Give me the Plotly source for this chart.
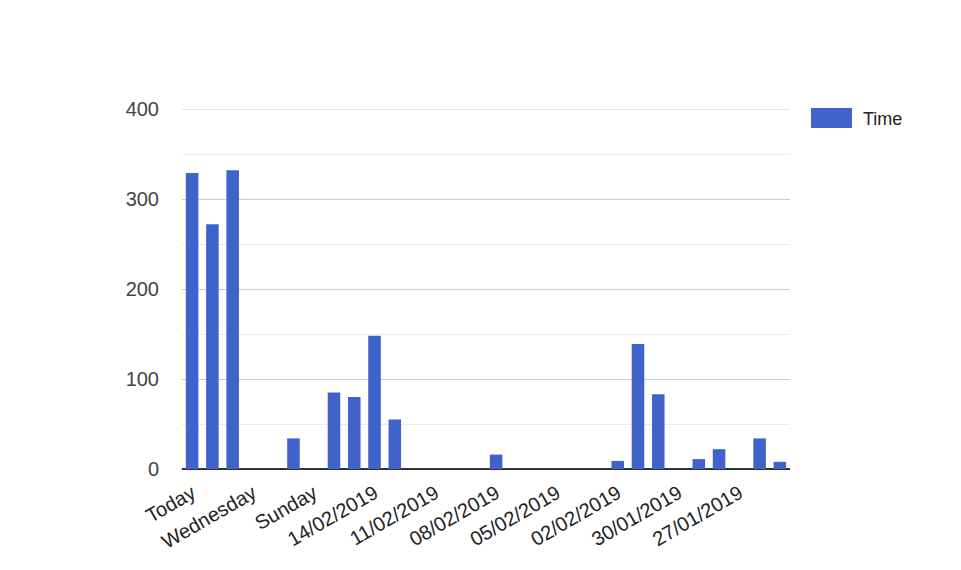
import plotly.graph_objects as go

categories = [
    "Today", "Yesterday", "Thursday", "Wednesday", "Tuesday", "Monday", "Sunday",
    "16/02/2019", "15/02/2019", "14/02/2019", "13/02/2019", "12/02/2019", "11/02/2019",
    "10/02/2019", "09/02/2019", "08/02/2019", "07/02/2019", "06/02/2019", "05/02/2019",
    "04/02/2019", "03/02/2019", "02/02/2019", "01/02/2019", "31/01/2019", "30/01/2019",
    "29/01/2019", "28/01/2019", "27/01/2019", "26/01/2019", "25/01/2019",
]
time_values = [
    329, 272, 332, 0, 0, 34, 0,
    85, 80, 148, 55, 0, 0,
    0, 0, 16, 0, 0, 0,
    0, 0, 9, 139, 83, 0,
    11, 22, 0, 34, 8,
]
tick_labels = categories[::3]
y_ticks = [0, 100, 200, 300, 400]

BAR_COLOR = "#3f63cb"
FONT = "Liberation Sans, Arial, sans-serif"

# plot area in page pixels (page body has an 8px offset)
L, T, W, H = 174, 101, 608, 360

fig = go.Figure()
fig.add_trace(go.Bar(
    x=categories, y=time_values, name="Time",
    marker=dict(color=BAR_COLOR, line=dict(width=0)),
    showlegend=False,
))

fig.update_layout(
    width=961, height=570,
    margin=dict(l=L, r=961 - L - W, t=T, b=570 - T - H),
    paper_bgcolor="white", plot_bgcolor="white",
    bargap=0.38,
    font=dict(family=FONT, size=20, color="#444"),
    xaxis=dict(
        type="category",
        tickmode="array", tickvals=tick_labels, ticktext=tick_labels,
        tickangle=-30, ticks="outside", ticklen=4, tickcolor="rgba(0,0,0,0)",
        tickfont=dict(size=20, color="#222"),
        showgrid=False, showline=False, zeroline=False,
    ),
    yaxis=dict(
        range=[0, 400], tickmode="array", tickvals=y_ticks,
        ticks="outside", ticklen=18, tickcolor="rgba(0,0,0,0)",
        tickfont=dict(size=20, color="#444"),
        showgrid=True, gridcolor="#cccccc", gridwidth=1,
        zeroline=True, zerolinecolor="#333333", zerolinewidth=1.5,
        minor=dict(dtick=50, tick0=0, showgrid=True, gridcolor="#ebebeb", gridwidth=1, ticks=""),
        showline=False,
    ),
    shapes=[
        dict(type="line", xref="paper", yref="y", x0=0, x1=1, y0=400, y1=400,
             line=dict(color="#cccccc", width=1), layer="below"),
        dict(type="rect", xref="paper", yref="paper",
             x0=(811 - 8 - L) / W, x1=(852 - 8 - L) / W,
             y0=(T + H - (128 - 8)) / H, y1=(T + H - (108 - 8)) / H,
             fillcolor=BAR_COLOR, line=dict(width=0)),
    ],
    annotations=[dict(
        text="Time", xref="paper", yref="paper",
        x=(861 - 8 - L) / W, y=(T + H - (119 - 8)) / H,
        xanchor="left", yanchor="middle", showarrow=False,
        font=dict(family=FONT, size=18, color="#222"),
    )],
)

fig.write_html("out.html")
